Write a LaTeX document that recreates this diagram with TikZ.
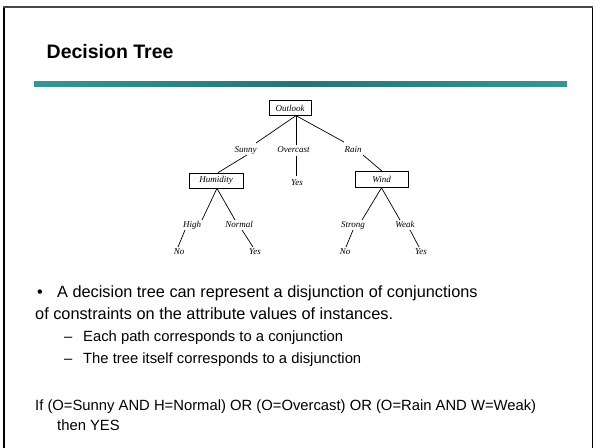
\documentclass[tikz,border=0pt]{standalone}
\usepackage{fontspec}
\setmainfont{Liberation Sans}
\newfontfamily\treefont{Liberation Serif}
\definecolor{barteal}{RGB}{52,150,150}
\definecolor{bardark}{RGB}{38,115,118}
\definecolor{framegray}{RGB}{70,70,70}
\tikzset{
  tbox/.style={draw, line width=0.7pt, inner sep=0pt, minimum height=15pt,
    font=\treefont\itshape\fontsize{9}{10}\selectfont},
  tlab/.style={inner sep=0pt, text height=6.5pt, text depth=2pt,
    font=\treefont\itshape\fontsize{9}{10}\selectfont},
  tedge/.style={line width=0.7pt},
  bigtext/.style={anchor=base west, inner sep=0pt, font=\fontsize{16.3}{19}\selectfont},
  smalltext/.style={anchor=base west, inner sep=0pt, font=\fontsize{14.8}{17}\selectfont},
  titletext/.style={anchor=base west, inner sep=0pt, font=\bfseries\fontsize{19.5}{23}\selectfont}
}
\begin{document}
\begin{tikzpicture}[x=1pt,y=-1pt]
\useasboundingbox (0,0) rectangle (594,447);
% frame
\draw[line width=1.3pt] (4,448) -- (4,7);
\draw[line width=1.3pt] (592.8,7) -- (592.8,448);
\draw[line width=2.6pt, framegray] (3.4,7) -- (593.4,7);
% title and bar
\node[titletext] (title) at (46.5,58.3) {Decision Tree};
\shade[left color=barteal, right color=barteal, middle color=bardark] (34,81) rectangle (567,86);
% tree nodes
\node[tbox, minimum width=42pt, minimum height=14.6pt] (outlook) at (290,108) {Outlook};
\node[tlab] (sunny) at (245.5,150) {Sunny};
\node[tlab] (overcast) at (293.5,150) {Overcast};
\node[tlab] (rain) at (353,150) {Rain};
\node[tbox, minimum width=54pt] (humidity) at (216,180.5) {Humidity};
\node[tlab] (yesA) at (297,183) {Yes};
\node[tbox, minimum width=53pt, minimum height=16pt] (wind) at (381.5,179.5) {Wind};
\node[tlab] (high) at (192,225) {High};
\node[tlab] (normal) at (239,225) {Normal};
\node[tlab] (strong) at (353,225) {Strong};
\node[tlab] (weak) at (405,225) {Weak};
\node[tlab] (noA) at (179,252.5) {No};
\node[tlab] (yesB) at (255,252.5) {Yes};
\node[tlab] (noB) at (345,252.5) {No};
\node[tlab] (yesC) at (421,252.5) {Yes};
% tree edges
\draw[tedge] ([xshift=6pt]outlook.south) -- ([shift={(10.5,-7)}]sunny.center);
\draw[tedge] ([xshift=6pt]outlook.south) -- ([shift={(2.5,-5)}]overcast.center);
\draw[tedge] ([xshift=6pt]outlook.south) -- ([shift={(-9,-8)}]rain.center);
\draw[tedge] ([shift={(1.5,5)}]sunny.center) -- ([xshift=2pt]humidity.north);
\draw[tedge] ([shift={(2.5,6)}]overcast.center) -- ([shift={(-1,-7)}]yesA.center);
\draw[tedge] ([shift={(10,5)}]rain.center) -- ([xshift=0.5pt]wind.north);
\draw[tedge] ([xshift=1pt]humidity.south) -- ([shift={(10,-5)}]high.center);
\draw[tedge] ([xshift=1pt]humidity.south) -- ([shift={(-4,-5)}]normal.center);
\draw[tedge] ([shift={(-7,5)}]high.center) -- ([shift={(-1,-5.5)}]noA.center);
\draw[tedge] ([shift={(3,5)}]normal.center) -- ([shift={(-2,-5.5)}]yesB.center);
\draw[tedge] (wind.south) -- ([shift={(9,-5)}]strong.center);
\draw[tedge] (wind.south) -- ([shift={(-5,-5)}]weak.center);
\draw[tedge] ([shift={(0,5)}]strong.center) -- ([shift={(1,-5.5)}]noB.center);
\draw[tedge] ([shift={(5,5)}]weak.center) -- ([shift={(-2,-5.5)}]yesC.center);
% body text
\node[bigtext] (bullet) at (37,297) {\textbullet};
\node[bigtext] (lineA) at (57,297) {A decision tree can represent a disjunction of conjunctions};
\node[bigtext] (lineB) at (35,319.5) {of constraints on the attribute values of instances.};
\node[smalltext] (dashA) at (64,341.5) {–};
\node[smalltext] (subA) at (83,341.5) {Each path corresponds to a conjunction};
\node[smalltext] (dashB) at (64,363.3) {–};
\node[smalltext] (subB) at (83,363.3) {The tree itself corresponds to a disjunction};
\node[smalltext] (ifline) at (35,410) {If (O=Sunny AND H=Normal) OR (O=Overcast) OR (O=Rain AND W=Weak)};
\node[smalltext] (thenline) at (57,430) {then YES};
\end{tikzpicture}
\end{document}
